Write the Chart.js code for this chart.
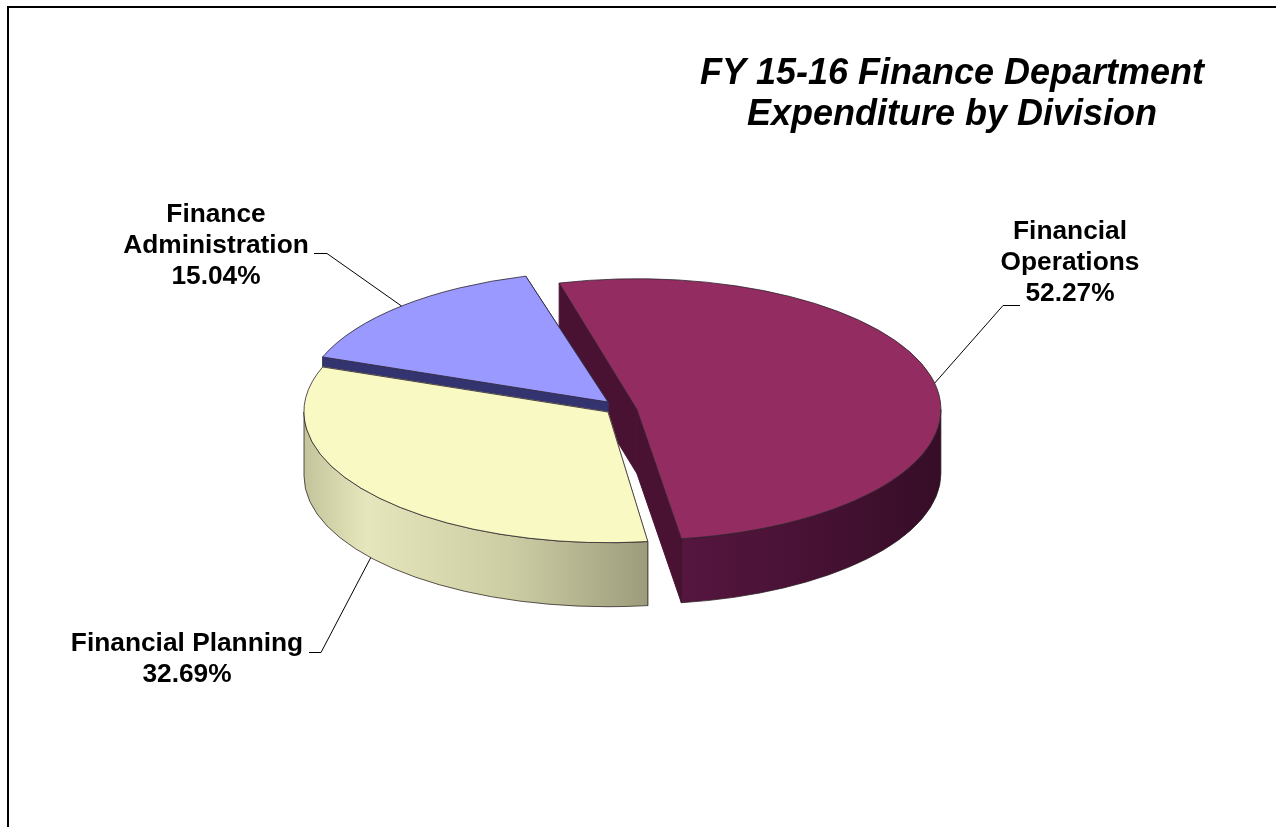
<!DOCTYPE html>
<html>
<head>
<meta charset="utf-8">
<style>html,body{margin:0;padding:0;background:#fff}canvas{display:block}</style>
<script src="https://cdn.jsdelivr.net/npm/chart.js@4"></script>
</head>
<body>
<canvas id="c" width="1276" height="827"></canvas>
<script>
const titleLines = ['FY 15-16 Finance Department', 'Expenditure by Division'];
const categories = ['Financial Operations', 'Financial Planning', 'Finance Administration'];
const values = [52.27, 32.69, 15.04];
const topColors = ['#932c60', '#f9f9c3', '#9999ff'];
const offsets = [118, 0, 0];
const labelLines = [['Financial', 'Operations'], ['Financial Planning'], ['Finance', 'Administration']];

const K = 0.43, DEPTH = 64, BLUE_LIFT = 10;
const FONT = 'Arial, "Liberation Sans", sans-serif';

function wallPaint(ctx, i) {
  if (i === 0) {
    const g = ctx.createLinearGradient(640, 0, 941, 0);
    g.addColorStop(0, '#5a1742'); g.addColorStop(0.5, '#4a1236'); g.addColorStop(1, '#360d27');
    return g;
  }
  if (i === 1) {
    const g = ctx.createLinearGradient(304, 0, 648, 0);
    g.addColorStop(0, '#c4c49c'); g.addColorStop(0.18, '#e6e6bc'); g.addColorStop(0.6, '#cdcda4'); g.addColorStop(1, '#9c9c7c');
    return g;
  }
  return '#33336f';
}
function cutColor(i) { return i === 0 ? '#4a1232' : i === 1 ? '#aaaa88' : '#33336f'; }

const pie3d = {
  id: 'pie3d',
  afterDatasetUpdate(chart) {
    const arcs = chart.getDatasetMeta(0).data;
    arcs[2].y -= BLUE_LIFT / K;
    // ArcElement grows the radius by offset/4 when drawing: keep all slices the same size
    arcs.forEach(el => { el.outerRadius -= (el.options.offset || 0) / 4; });
  },
  beforeDraw(chart) {
    const ctx = chart.ctx;
    ctx.save();
    ctx.strokeStyle = '#000'; ctx.lineWidth = 2;
    ctx.beginPath(); ctx.moveTo(8, 827); ctx.lineTo(8, 7); ctx.lineTo(1276, 7); ctx.stroke();
    ctx.restore();
  },
  beforeDatasetsDraw(chart) {
    const ctx = chart.ctx, arcs = chart.getDatasetMeta(0).data;
    const cy0 = (chart.chartArea.top + chart.chartArea.bottom) / 2;
    this.cy0 = cy0;
    ctx.save();
    [0, 2, 1].forEach(i => {
      const g = geom(arcs[i], i, cy0);
      ctx.fillStyle = cutColor(i); ctx.strokeStyle = cutColor(i); ctx.lineWidth = 1;
      [g.s, g.e].forEach(p => {
        ctx.beginPath();
        ctx.moveTo(g.cx, g.cy); ctx.lineTo(p.x, p.y);
        ctx.lineTo(p.x, p.y + DEPTH); ctx.lineTo(g.cx, g.cy + DEPTH);
        ctx.closePath(); ctx.fill(); ctx.stroke();
      });
      const TAU = Math.PI * 2;
      for (let n = -1; n <= 1; n++) {
        const a0 = Math.max(g.a0, n * TAU), a1 = Math.min(g.a1, n * TAU + Math.PI);
        if (a1 <= a0) continue;
        ctx.beginPath();
        ctx.ellipse(g.cx, g.cy, g.r, g.r * K, 0, a0, a1);
        ctx.ellipse(g.cx, g.cy + DEPTH, g.r, g.r * K, 0, a1, a0, true);
        ctx.closePath();
        ctx.fillStyle = wallPaint(ctx, i); ctx.fill();
        ctx.strokeStyle = 'rgba(40,30,30,.75)'; ctx.lineWidth = 1; ctx.stroke();
      }
    });
    ctx.restore();
    ctx.save();
    ctx.translate(0, cy0); ctx.scale(1, K); ctx.translate(0, -cy0);
  },
  afterDatasetsDraw(chart) {
    const ctx = chart.ctx, arcs = chart.getDatasetMeta(0).data, cy0 = this.cy0;
    ctx.restore();
    ctx.save();
    arcs.forEach((el, i) => {
      const g = geom(el, i, cy0);
      ctx.beginPath();
      ctx.moveTo(g.cx, g.cy);
      ctx.ellipse(g.cx, g.cy, g.r, g.r * K, 0, g.a0, g.a1);
      ctx.closePath();
      ctx.strokeStyle = 'rgba(45,35,45,.8)'; ctx.lineWidth = 1; ctx.stroke();
    });
    // leader lines anchored at each slice's mid angle
    ctx.strokeStyle = '#000'; ctx.lineWidth = 1;
    const anchor = i => {
      const g = geom(arcs[i], i, cy0), m = (g.a0 + g.a1) / 2;
      return { x: g.cx + g.r * Math.cos(m), y: g.cy + g.r * K * Math.sin(m) + (i === 1 ? DEPTH : 0) };
    };
    const leaders = [[[1003, 305.5], [1020, 305.5]], [[321, 652.5], [309, 652.5]], [[327, 253.5], [314, 253.5]]];
    leaders.forEach((pts, i) => {
      const a = anchor(i);
      ctx.beginPath(); ctx.moveTo(a.x, a.y);
      pts.forEach(p => ctx.lineTo(p[0], p[1]));
      ctx.stroke();
    });
    // labels
    ctx.fillStyle = '#000'; ctx.textAlign = 'center'; ctx.textBaseline = 'alphabetic';
    ctx.font = 'bold 26.3px ' + FONT;
    const pos = [[1070, 239], [187, 651], [216, 222]];
    labelLines.forEach((ls, i) => {
      const lines = ls.concat(values[i].toFixed(2) + '%');
      lines.forEach((t, j) => ctx.fillText(t, pos[i][0], pos[i][1] + j * 31));
    });
    ctx.font = 'italic bold 36px ' + FONT;
    titleLines.forEach((t, j) => ctx.fillText(t, 952, 84 + j * 41));
    ctx.restore();
  }
};

function geom(el, i, cy0) {
  // same displacement, radius and angle trim that ArcElement.draw applies for options.offset
  const o = (el.options.offset || 0) / 4;
  const mid = (el.startAngle + el.endAngle) / 2;
  const cx = el.x + Math.cos(mid) * o;
  const cy = cy0 + (el.y + Math.sin(mid) * o - cy0) * K;
  const r = el.outerRadius + o;
  const trim = (o / Math.PI) / r / 2;
  const a0 = el.startAngle + trim, a1 = el.endAngle - trim;
  const pt = a => ({ x: cx + r * Math.cos(a), y: cy + r * K * Math.sin(a) });
  return { cx, cy, r, a0, a1, s: pt(a0), e: pt(a1) };
}

new Chart(document.getElementById('c'), {
  type: 'pie',
  data: {
    labels: categories,
    datasets: [{
      data: values,
      backgroundColor: topColors,
      borderWidth: 0,
      offset: offsets,
      hoverOffset: 0,
      radius: 304,
      clip: false
    }]
  },
  options: {
    responsive: false,
    animation: false,
    rotation: -15.7,
    layout: { padding: { right: 60, bottom: 3 } },
    events: [],
    plugins: { legend: { display: false }, tooltip: { enabled: false } }
  },
  plugins: [pie3d]
});
</script>
</body>
</html>
